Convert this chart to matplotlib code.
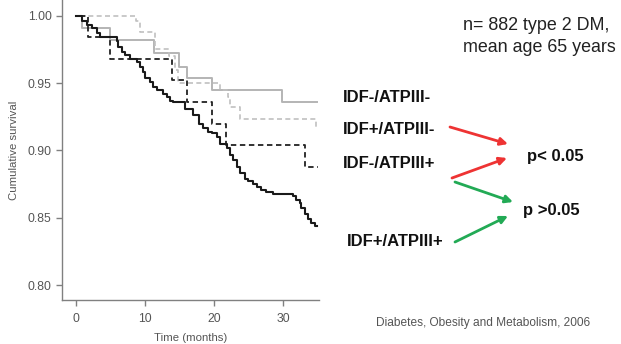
import matplotlib
matplotlib.use("Agg")
import matplotlib.pyplot as plt
from matplotlib.patches import FancyArrowPatch

plt.rcParams['font.family'] = ['Liberation Sans', 'DejaVu Sans']

# Kaplan-Meier step data (months, cumulative survival)
t_neg_neg = [0.5, 0.8, 4.9, 11.3, 14.9, 16.1, 19.7, 29.9, 34.9]
s_neg_neg = [1.000, 0.991, 0.982, 0.972, 0.962, 0.954, 0.945, 0.936, 0.936]

t_pos_neg = [0.5, 8.7, 9.2, 11.4, 13.4, 14.3, 14.8, 20.8, 22.0, 22.3, 23.7, 34.8, 35.0]
s_pos_neg = [1.000, 0.996, 0.988, 0.975, 0.970, 0.960, 0.950, 0.945, 0.940, 0.932, 0.923, 0.917, 0.917]

t_neg_pos = [0.5, 1.7, 4.9, 13.9, 16.1, 19.7, 21.7, 33.1, 35.0]
s_neg_pos = [1.000, 0.984, 0.968, 0.952, 0.936, 0.920, 0.904, 0.888, 0.888]

t_pos_pos = [0.0, 0.77, 1.50, 2.22, 2.95, 3.43, 5.85, 6.09, 6.57, 7.05, 7.78, 8.74, 9.23,
             9.71, 9.95, 10.68, 11.16, 11.64, 12.61, 13.09, 13.57, 14.06, 15.75, 16.96,
             17.78, 18.41, 19.13, 19.71, 20.34, 20.82, 21.79, 22.27, 22.75, 23.24, 23.72,
             24.44, 24.93, 25.65, 26.14, 26.86, 27.58, 28.55, 31.45, 31.93, 32.42, 32.66,
             33.14, 33.62, 34.11, 34.59, 34.93]
s_pos_pos = [1.000, 0.996, 0.993, 0.991, 0.987, 0.984, 0.981, 0.977, 0.973, 0.971, 0.968,
             0.966, 0.962, 0.958, 0.954, 0.951, 0.947, 0.945, 0.942, 0.940, 0.937, 0.936,
             0.931, 0.926, 0.920, 0.917, 0.914, 0.913, 0.910, 0.905, 0.902, 0.897, 0.893,
             0.888, 0.883, 0.879, 0.877, 0.875, 0.873, 0.871, 0.869, 0.868, 0.866, 0.863,
             0.861, 0.857, 0.853, 0.849, 0.846, 0.844, 0.844]

x_ticks = [0, 10, 20, 30]
y_ticks = [0.80, 0.85, 0.90, 0.95, 1.00]

W, H = 621, 344
fig = plt.figure(figsize=(W / 100, H / 100), dpi=100)
ax = fig.add_axes([62 / W, 1 - 300 / H, (319 - 62) / W, 300 / H])

ax.step(t_neg_neg, s_neg_neg, where='post', color='#b4b4b4', lw=1.4)
ax.step(t_pos_neg, s_pos_neg, where='post', color='#c0c0c0', lw=1.2, ls=(0, (3, 2)))
ax.step(t_neg_pos, s_neg_pos, where='post', color='#222222', lw=1.3, ls=(0, (3, 2)))
ax.step(t_pos_pos, s_pos_pos, where='post', color='#1a1a1a', lw=1.5)

ax.set_xlim(-2.07, 35.2)
ax.set_ylim(0.789, 1.0117)
ax.set_xticks(x_ticks)
ax.set_yticks(y_ticks)
ax.set_yticklabels([f"{v:.2f}" for v in y_ticks])
for s in ['top', 'right']:
    ax.spines[s].set_visible(False)
for s in ['left', 'bottom']:
    ax.spines[s].set_color('#808080')
    ax.spines[s].set_linewidth(1.0)
ax.tick_params(colors='#808080', labelcolor='#555555', labelsize=8.8, length=4, width=1.0)
ax.tick_params(axis='x', pad=5)
ax.set_xlabel('Time (months)', fontsize=8.2, color='#555555', labelpad=6)
ax.set_ylabel('Cumulative survival', fontsize=8.2, color='#555555', labelpad=6)

def ft(x, y, s, **kw):
    fig.text(x / W, 1 - y / H, s, va='center', **kw)

ft(463, 26, 'n= 882 type 2 DM,', fontsize=12.9, color='#222222')
ft(463, 48, 'mean age 65 years', fontsize=12.9, color='#222222')

lab_kw = dict(fontsize=12, fontweight='bold', color='#111111')
ft(343, 97, 'IDF-/ATPIII-', **lab_kw)
ft(343, 129, 'IDF+/ATPIII-', **lab_kw)
ft(343, 164, 'IDF-/ATPIII+', **lab_kw)
ft(347, 241, 'IDF+/ATPIII+', **lab_kw)
ft(527, 157, 'p< 0.05', **lab_kw)
ft(523, 211, 'p >0.05', **lab_kw)

ft(376, 323, 'Diabetes, Obesity and Metabolism, 2006', fontsize=8.6, color='#555555')

def arrow(x1, y1, x2, y2, c):
    fig.add_artist(FancyArrowPatch((x1 / W, 1 - y1 / H), (x2 / W, 1 - y2 / H),
                                   transform=fig.transFigure, arrowstyle='-|>',
                                   mutation_scale=11, color=c, lw=2.0,
                                   shrinkA=0, shrinkB=0))

red = '#ee3333'
green = '#22aa55'
arrow(450, 127, 508, 144, red)
arrow(452, 178, 507, 158, red)
arrow(455, 182, 513, 202, green)
arrow(455, 242, 508, 216, green)

fig.savefig('out.png', dpi=100)
